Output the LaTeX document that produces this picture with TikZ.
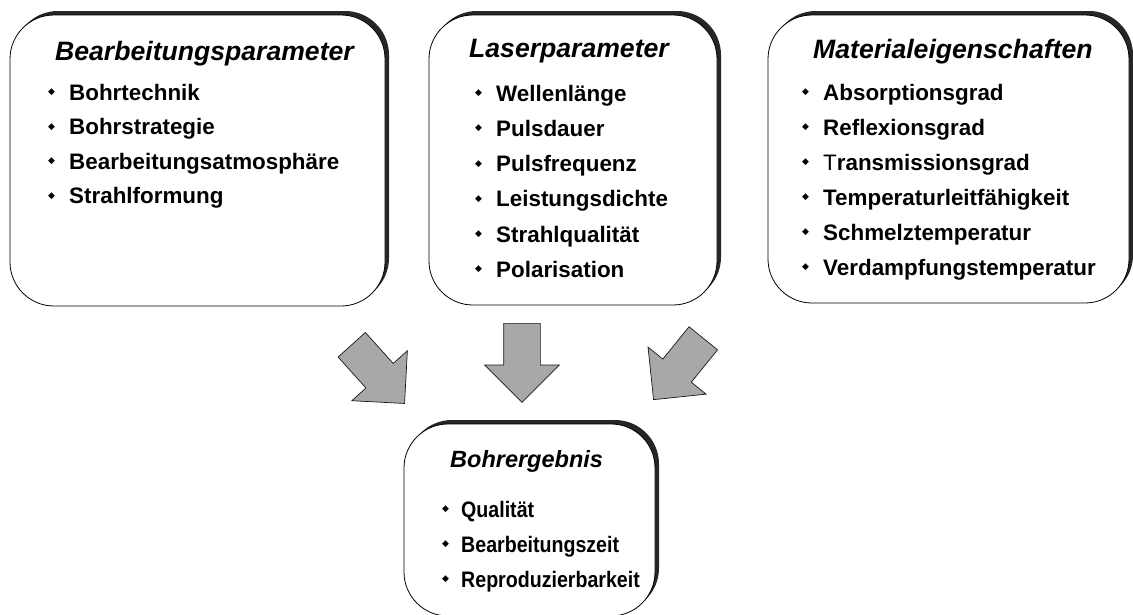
\documentclass[tikz,border=0pt]{standalone}
\usepackage{fontspec}
\setmainfont{Liberation Sans}
\newfontfamily\symfont{DejaVu Sans}
\usetikzlibrary{shapes.arrows,shadows}

\newcommand\bul{\makebox[21pt][l]{\raisebox{5.5pt}{\symfont\fontsize{9}{9}\selectfont ◆}}}

\tikzset{
  parbox/.style={draw, fill=white, line width=.8pt, rounded corners=44pt,
    drop shadow={shadow xshift=4pt, shadow yshift=4pt, fill=black!85, opacity=1}},
  head/.style={anchor=base west, inner sep=0pt, font=\fontsize{26.6}{30}\selectfont\bfseries\itshape},
  item/.style={anchor=base west, inner sep=0pt, font=\fontsize{22.4}{26}\selectfont\bfseries},
  bigarrow/.style={single arrow, draw=black!90, fill=black!34, line width=.7pt,
    inner xsep=0pt, inner ysep=18pt, minimum height=79pt, anchor=tail,
    single arrow head extend=19pt, single arrow head indent=0pt}
}

\begin{document}
\begin{tikzpicture}[x=1pt, y=-1pt]
\useasboundingbox (0,0) rectangle (1133,614);
\clip (0,0) rectangle (1133,614);

% parameter boxes
\node[parbox, minimum width=375pt, minimum height=291pt] (bearb) at (197.5,160.5) {};
\node[parbox, minimum width=288pt, minimum height=290pt] (laser) at (573,160) {};
\node[parbox, minimum width=361pt, minimum height=288pt] (mat) at (948.5,159) {};
\node[parbox, minimum width=251pt, minimum height=192pt] (erg) at (529.5,520) {};

\node[head] (bearb-h) at (55,60) {Bearbeitungsparameter};
\node[head] (laser-h) at (469,57) {Laserparameter};
\node[head] (mat-h) at (813,58) {Materialeigenschaften};
\node[head, font=\fontsize{23.5}{28}\selectfont\bfseries\itshape] (erg-h) at (450,467) {Bohrergebnis};

\foreach \t [count=\i] in {Bohrtechnik, Bohrstrategie, Bearbeitungsatmosphäre, Strahlformung}
  \node[item] (bearb-\i) at (48,{65.5+34.5*\i}) {\bul\t};
\foreach \t [count=\i] in {Wellenlänge, Pulsdauer, Pulsfrequenz, Leistungsdichte, Strahlqualität, Polarisation}
  \node[item] (laser-\i) at (475,{66+35.2*\i}) {\bul\t};
\foreach \t [count=\i] in {Absorptionsgrad, Reflexionsgrad, {{\mdseries T}ransmissionsgrad}, Temperaturleitfähigkeit, Schmelztemperatur, Verdampfungstemperatur}
  \node[item] (mat-\i) at (802,{65+35*\i}) {\bul\t};
% result box: narrower lettering
\foreach \t [count=\i] in {Qualität, Bearbeitungszeit, Reproduzierbarkeit}
  \node[item] (erg-\i) at (442,{482+35*\i}) {\makebox[19pt][l]{\bul}\scalebox{.875}[1]{\t}};

% block arrows
\node[bigarrow, rotate=-48] (pfeil-l) at (351.5,344.5) {};
\node[bigarrow, rotate=-90] (pfeil-m) at (522,323) {};
\node[bigarrow, rotate=-129] (pfeil-r) at (703.5,338) {};
\end{tikzpicture}
\end{document}
